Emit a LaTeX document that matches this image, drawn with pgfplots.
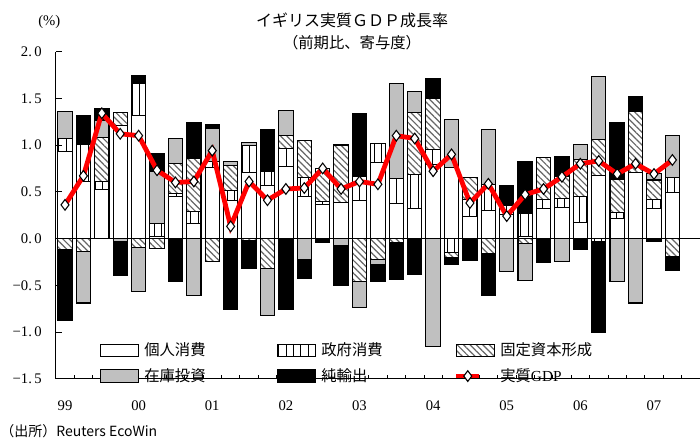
\documentclass[border=0pt]{standalone}
\usepackage{fontspec}
\setmainfont{Liberation Serif}
\newfontfamily\cjk{Noto Sans CJK JP}
\usepackage{pgfplots}
\pgfplotsset{compat=1.18}
\usepackage{pgfplotstable}
\usetikzlibrary{patterns.meta}

% positive contributions (C: private cons., G: gov. cons., F: fixed capital, I: inventories, N: net exports)
\pgfplotstableread{
x C G F I N
0 0.93 0.135 0 0.29 0
1 0.61 0.40 0 0 0.31
2 0.52 0.09 0.47 0.18 0.13
3 1.21 0 0.14 0 0
4 1.32 0.34 0 0 0.08
5 0.025 0.14 0 0.55 0.195
6 0.45 0.035 0.32 0.26 0
7 0.156 0.135 0.56 0 0.39
8 0.76 0.06 0 0.36 0.035
9 0.41 0.10 0.27 0.046 0
10 0.71 0.28 0 0.035 0
11 0.57 0.15 0 0 0.45
12 0.77 0.195 0.14 0.26 0
13 0.45 0.205 0.39 0 0
14 0.36 0.035 0.35 0 0
15 0.39 0 0.61 0 0
16 0.41 0.25 0 0 0.68
17 0.81 0.21 0 0 0
18 0.37 0.27 0 1.02 0
19 0.32 0.365 0.66 0.23 0
20 0.79 0.167 0.54 0 0.21
21 0.76 0 0 0.51 0
22 0.24 0.18 0.23 0 0
23 0.30 0.28 0 0.585 0
24 0.255 0.10 0 0 0.21
25 0.02 0.25 0 0 0.55
26 0.32 0.096 0.45 0 0
27 0.33 0.10 0.23 0 0.22
28 0.17 0.28 0.40 0.16 0
29 0.67 0 0.39 0.67 0
30 0.21 0.064 0.36 0 0.61
31 0.71 0 0.645 0 0.16
32 0.32 0.096 0.21 0.07 0
33 0.49 0.16 0 0.45 0
}\postab

% negative contributions
\pgfplotstableread{
x C G F I N
0 0 0 -0.117 0 -0.76
1 0 0 -0.14 -0.55 0
2 0 0 0 0 0
3 0 0 0 -0.03 -0.37
4 0 0 -0.10 -0.47 0
5 0 0 -0.11 0 0
6 0 0 0 0 -0.46
7 0 0 0 -0.61 0
8 0 0 -0.25 0 0
9 0 0 0 0 -0.76
10 0 0 -0.02 0 -0.30
11 0 0 -0.32 -0.50 0
12 0 0 0 0 -0.76
13 0 0 0 -0.22 -0.21
14 0 0 0 0 -0.04
15 0 0 0 -0.07 -0.43
16 0 0 -0.46 -0.28 0
17 0 0 -0.22 -0.06 -0.18
18 0 0 -0.046 0 -0.39
19 0 0 0 0 -0.38
20 0 0 0 -1.16 0
21 0 -0.145 -0.06 0 -0.07
22 0 0 0 0 -0.24
23 0 0 -0.16 0 -0.45
24 0 0 0 -0.35 0
25 0 0 -0.05 -0.40 0
26 0 0 0 0 -0.26
27 0 0 0 -0.25 0
28 0 0 0 0 -0.12
29 0 -0.035 0 0 -0.975
30 0 0 0 -0.46 0
31 0 0 0 -0.69 0
32 0 0 0 0 -0.03
33 0 0 -0.195 0 -0.15
}\negtab

% real GDP growth
\pgfplotstableread{
x y
0 0.36
1 0.67
2 1.34
3 1.12
4 1.10
5 0.73
6 0.60
7 0.61
8 0.94
9 0.13
10 0.61
11 0.41
12 0.53
13 0.54
14 0.75
15 0.53
16 0.61
17 0.58
18 1.10
19 1.07
20 0.72
21 0.90
22 0.38
23 0.585
24 0.24
25 0.47
26 0.53
27 0.66
28 0.80
29 0.83
30 0.69
31 0.80
32 0.69
33 0.84
}\gdptab

\definecolor{invgray}{RGB}{192,192,192}
\definecolor{gdpred}{RGB}{255,0,0}

\pgfplotsset{
  common/.style={
    at={(41.85pt,45.19pt)}, anchor=south west,
    scale only axis, width=483.15pt, height=245.4pt,
    xmin=-0.5, xmax=34.5, ymin=-1.5, ymax=2.0,
  },
  barbase/.style={draw=black, line width=0.8pt},
  sC/.style={barbase, fill=white},
  sG/.style={barbase, fill=white, postaction={pattern={Lines[angle=90,distance=5.5pt,line width=0.7pt]}, pattern color=black}},
  sF/.style={barbase, fill=white, postaction={pattern={Lines[angle=-45,distance=3.4pt,line width=0.9pt]}, pattern color=black!60}},
  sI/.style={barbase, fill=invgray},
  sN/.style={barbase, fill=black},
  sGDP/.style={gdpred, line width=3.6pt, mark=diamond*, mark size=4pt,
     mark options={fill=white, draw=black, line width=0.8pt, solid}},
  barlegend/.style={legend image code/.code={\draw[##1] (0pt,-4.6pt) rectangle (28.5pt,4.6pt);}},
  linelegend/.style={legend image code/.code={\draw[mark repeat=2,mark phase=2,##1] plot coordinates {(0pt,0pt) (15.4pt,0pt) (30.8pt,0pt)};}},
}

\begin{document}
\begin{tikzpicture}
\useasboundingbox (0,0) rectangle (525pt,329.25pt);

% positive parts
\begin{axis}[common, hide axis, ybar stacked, bar width=0.78]
\addplot[sC] table[x=x,y=C]{\postab};
\addplot[sG] table[x=x,y=G]{\postab};
\addplot[sF] table[x=x,y=F]{\postab};
\addplot[sI] table[x=x,y=I]{\postab};
\addplot[sN] table[x=x,y=N]{\postab};
\end{axis}

% negative parts
\begin{axis}[common, hide axis, ybar stacked, bar width=0.78]
\addplot[sC] table[x=x,y=C]{\negtab};
\addplot[sG] table[x=x,y=G]{\negtab};
\addplot[sF] table[x=x,y=F]{\negtab};
\addplot[sI] table[x=x,y=I]{\negtab};
\addplot[sN] table[x=x,y=N]{\negtab};
\end{axis}

% axes, zero line, GDP line, legend
\begin{axis}[common,
  axis lines*=left,
  axis line style={line width=0.8pt},
  tick align=inside,
  major tick length=4.5pt, minor tick length=3pt,
  tick style={black, line width=0.6pt},
  ytick={-1.5,-1,-0.5,0,0.5,1,1.5,2},
  yticklabels={−1.\,5,−1.\,0,−0.\,5,0.\,0,0.\,5,1.\,0,1.\,5,2.\,0},
  yticklabel style={font=\fontsize{11}{13}\selectfont, xshift=-7pt},
  xtick={0,4,...,32},
  xticklabels={99,00,01,02,03,04,05,06,07},
  major x tick style={draw=none},
  minor xtick={-0.5,0.5,...,34.5},
  xticklabel style={font=\fontsize{11}{13}\selectfont, yshift=-13pt},
  legend columns=3,
  legend cell align=left,
  legend style={draw=none, fill=none, at={(0.068,0.118)}, anchor=north west,
    font=\cjk\fontsize{11.5}{13}\selectfont, inner sep=0pt,
    /tikz/every odd column/.append style={column sep=2pt},
    /tikz/every even column/.append style={column sep=51.5pt},
    /tikz/row sep=4pt},
]
\addlegendimage{barlegend, sC}
\addlegendentry{個人消費}
\addlegendimage{barlegend, sG}
\addlegendentry{政府消費}
\addlegendimage{barlegend, sF}
\addlegendentry{固定資本形成}
\addlegendimage{barlegend, sI}
\addlegendentry{在庫投資}
\addlegendimage{barlegend, sN}
\addlegendentry{純輸出}
\draw[line width=0.9pt] (axis cs:-0.5,0) -- (axis cs:34.5,0);
\addplot[sGDP] table[x=x,y=y]{\gdptab};
\addlegendentry{実質{\rmfamily GDP}}
\end{axis}

\node[font=\cjk\fontsize{12}{14}\selectfont] at (264pt,314.25pt) {イギリス実質ＧＤＰ成長率};
\node[font=\cjk\fontsize{11.5}{14}\selectfont] at (264pt,297pt) {（前期比、寄与度）};
\node[font=\fontsize{11}{13}\selectfont] at (37pt,312.75pt) {(\%)};
\node[font=\cjk\fontsize{10.5}{12}\selectfont, anchor=west, inner sep=0pt] at (0pt,5.5pt) {（出所）Reuters EcoWin};
\end{tikzpicture}
\end{document}
